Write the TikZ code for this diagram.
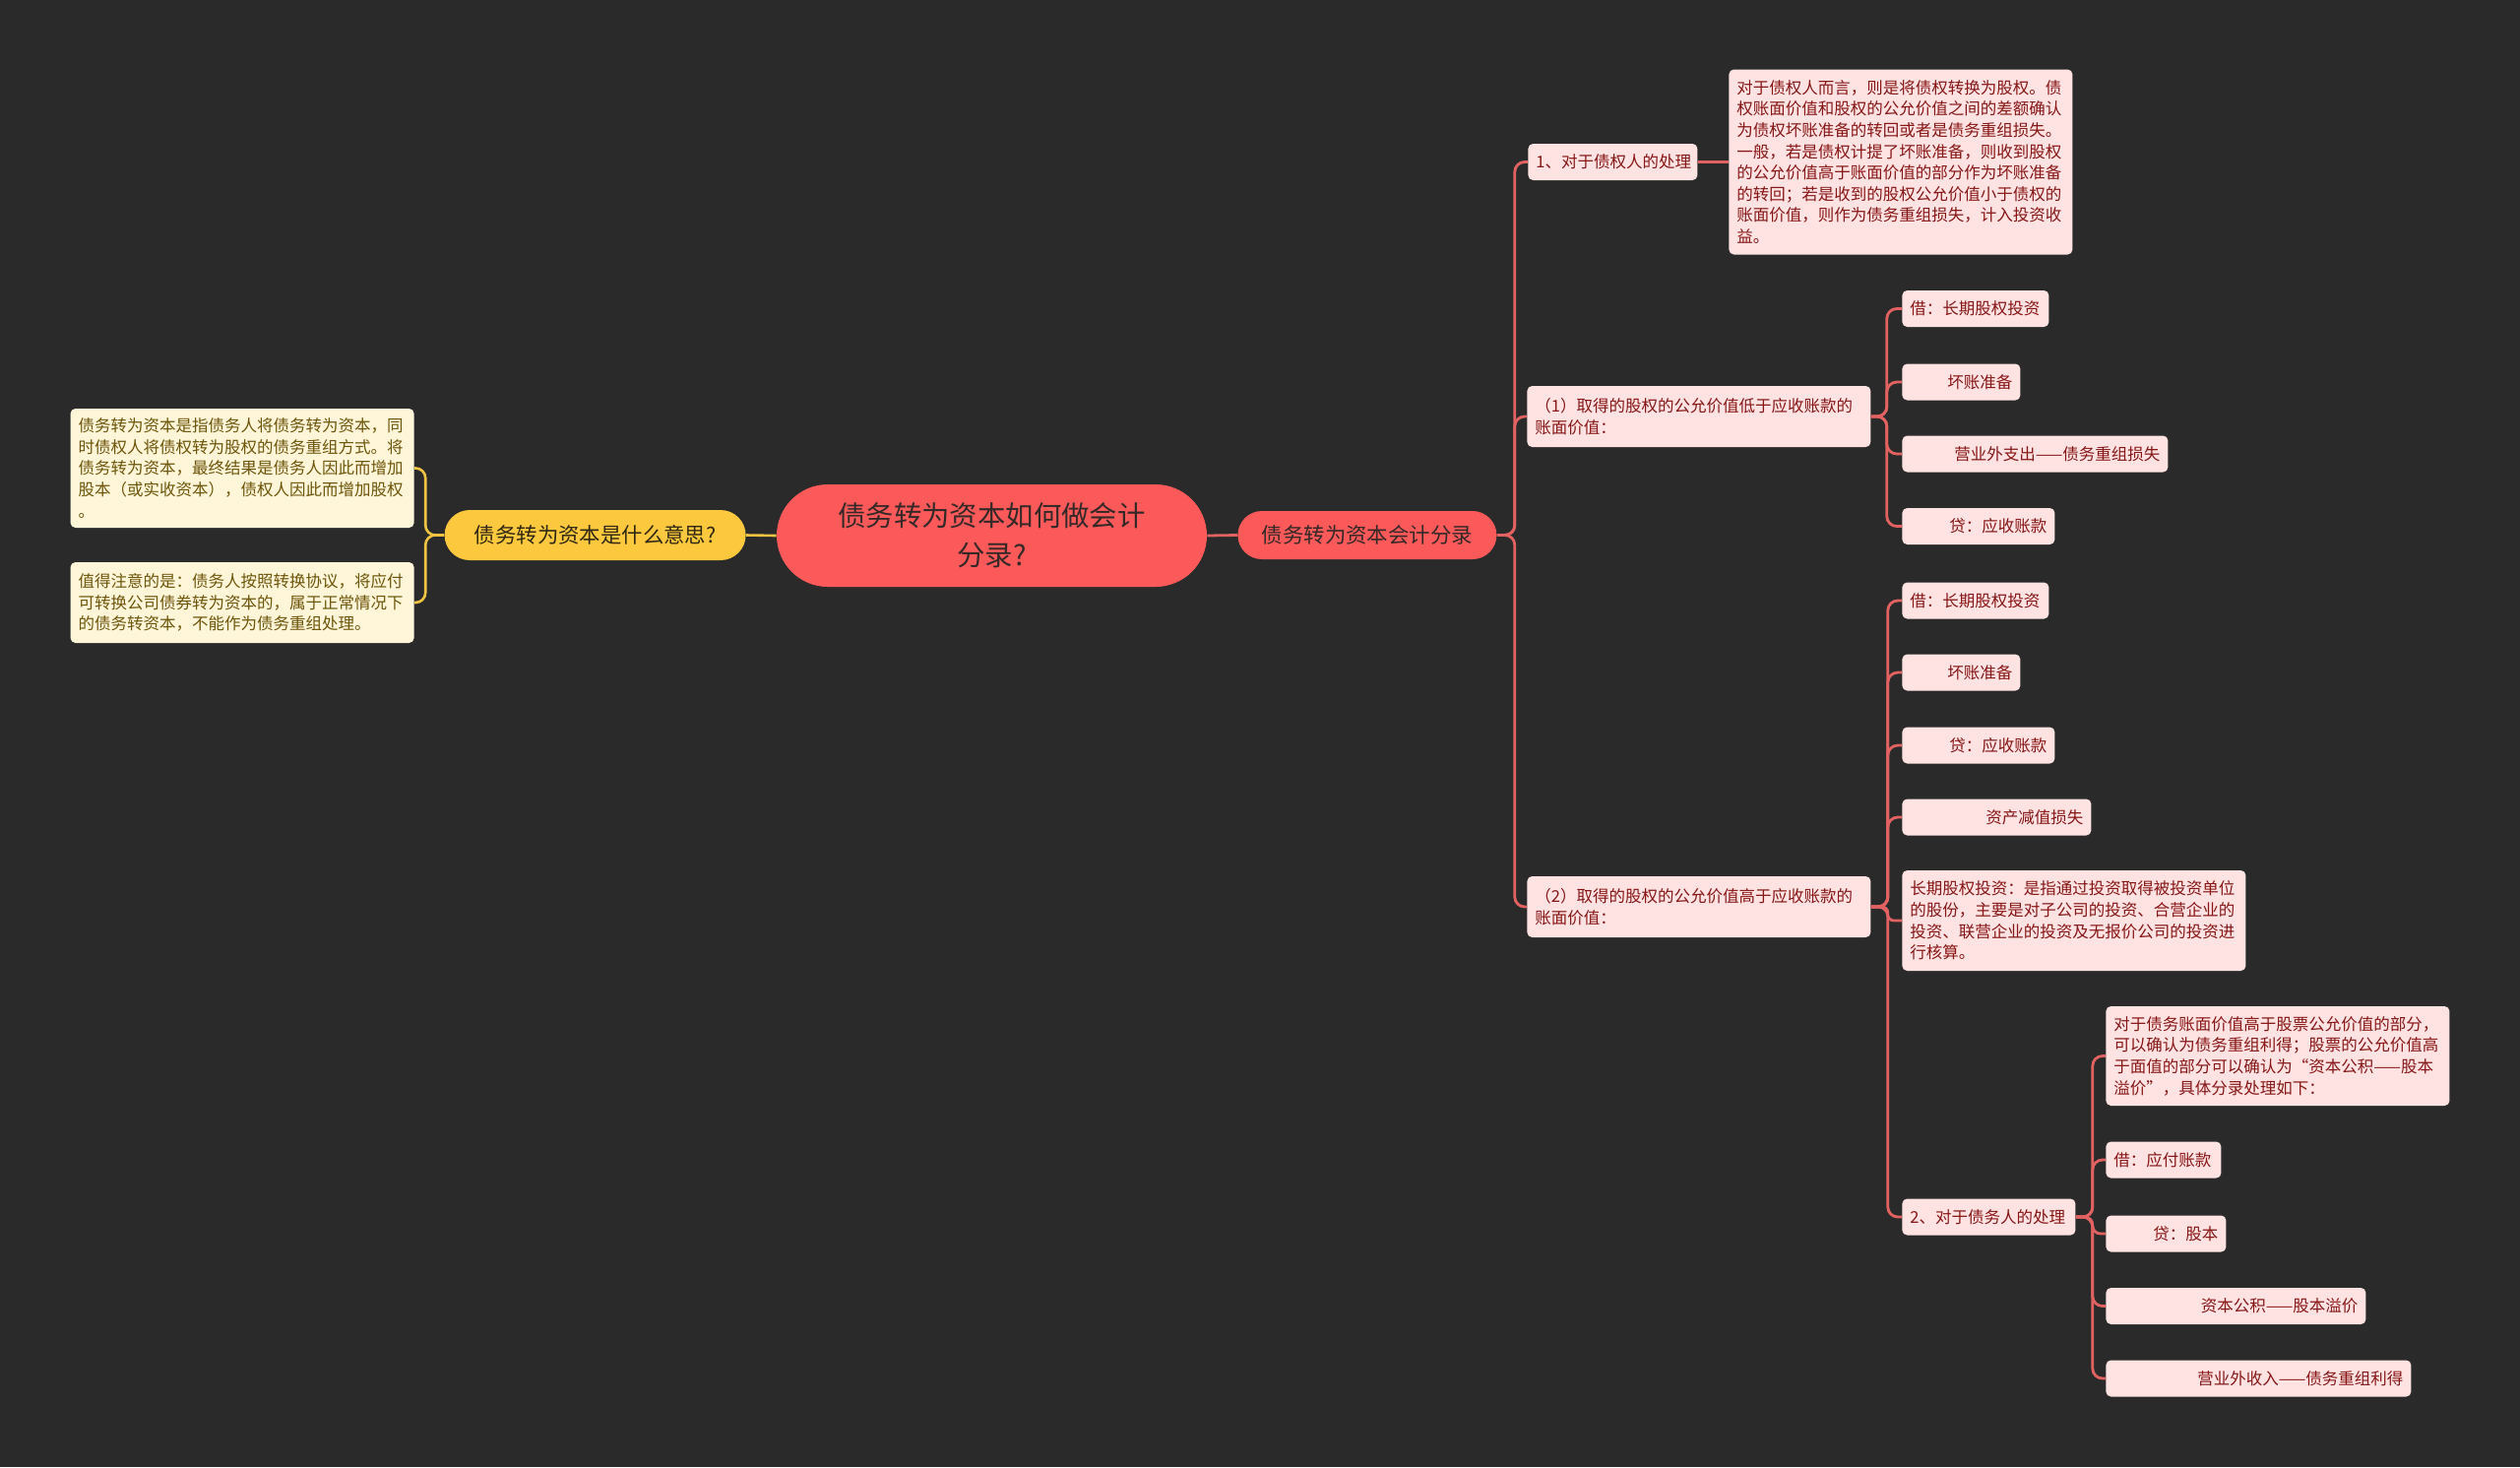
\documentclass[tikz,border=0pt]{standalone}
\usepackage{fontspec}
\setmainfont{Noto Sans CJK SC}
\definecolor{bg}{RGB}{42,42,42}
\definecolor{rootfill}{RGB}{252,90,90}
\definecolor{roottext}{RGB}{55,40,40}
\definecolor{leaffill}{RGB}{255,226,226}
\definecolor{leaftext}{RGB}{135,22,22}
\definecolor{rline}{RGB}{226,98,98}
\definecolor{yfill}{RGB}{252,200,62}
\definecolor{ytext}{RGB}{50,40,20}
\definecolor{yleaffill}{RGB}{255,246,218}
\definecolor{yleaftext}{RGB}{110,85,10}
\definecolor{yline}{RGB}{240,196,66}
\begin{document}
\begin{tikzpicture}[x=0.5pt,y=-0.5pt,
  leafbox/.style={fill=leaffill,text=leaftext,rounded corners=2.5pt,inner xsep=4pt,inner ysep=0pt,anchor=west,font=\fontsize{8.25pt}{10.8pt}\selectfont,align=left,minimum height=18.5pt},
  rleaf/.style={leafbox,align=right},
  yleaf/.style={leafbox,fill=yleaffill,text=yleaftext,anchor=east},
  rootbox/.style={fill=rootfill,text=roottext,rounded corners=26pt,minimum width=218.5pt,minimum height=52pt,inner sep=0pt,align=center,font=\fontsize{14.2pt}{20pt}\selectfont},
  sub/.style={fill=rootfill,text=roottext,rounded corners=12.25pt,minimum width=131.5pt,minimum height=24.5pt,inner sep=0pt,align=center,font=\fontsize{10.7pt}{13pt}\selectfont},
  ysub/.style={sub,fill=yfill,text=ytext,minimum width=153pt,minimum height=25.5pt,rounded corners=12.75pt},
  rconn/.style={draw=rline,line width=1.4pt,rounded corners=5pt},
  yconn/.style={draw=yline,line width=1.3pt,rounded corners=5pt}]
\fill[bg] (0,0) rectangle (2560,1490);
\useasboundingbox (0,0) rectangle (2560,1490);

% root and level 1
\node[rootbox] (root) at (1007.5,544) {债务转为资本如何做会计\\分录?};
\node[sub,anchor=west] (rc) at (1257,543.5) {债务转为资本会计分录};
\node[ysub,anchor=east] (yq) at (758,543.5) {债务转为资本是什么意思?};

% left leaves
\node[yleaf,text width=166.5pt,minimum height=60.5pt] (yl1) at (421,475.5) {债务转为资本是指债务人将债务转为资本，同\\时债权人将债权转为股权的债务重组方式。将\\债务转为资本，最终结果是债务人因此而增加\\股本（或实收资本），债权人因此而增加股权\\。};
\node[yleaf,text width=166.5pt,minimum height=41pt] (yl2) at (421,612) {值得注意的是：债务人按照转换协议，将应付\\可转换公司债券转为资本的，属于正常情况下\\的债务转资本，不能作为债务重组处理。};

% right level 2
\node[leafbox,text width=78pt] (n1) at (1552,164.5) {1、对于债权人的处理};
\node[leafbox,text width=166.5pt,minimum height=94pt] (cred) at (1756,164.5) {对于债权人而言，则是将债权转换为股权。债\\权账面价值和股权的公允价值之间的差额确认\\为债权坏账准备的转回或者是债务重组损失。\\一般，若是债权计提了坏账准备，则收到股权\\的公允价值高于账面价值的部分作为坏账准备\\的转回；若是收到的股权公允价值小于债权的\\账面价值，则作为债务重组损失，计入投资收\\益。};
\node[leafbox,text width=166.5pt,minimum height=31pt] (p1) at (1551,423) {（1）取得的股权的公允价值低于应收账款的\\账面价值：};
\node[leafbox,text width=166.5pt,minimum height=31pt] (p2) at (1551,921) {（2）取得的股权的公允价值高于应收账款的\\账面价值：};

% (1) children
\node[leafbox,text width=66.5pt] (a1) at (1932,313.5) {借：长期股权投资};
\node[rleaf,text width=52pt] (a2) at (1932,388) {坏账准备};
\node[rleaf,text width=127pt] (a3) at (1932,461) {营业外支出——债务重组损失};
\node[rleaf,text width=69.5pt] (a4) at (1932,534.5) {贷：应收账款};

% (2) children
\node[leafbox,text width=66.5pt] (b1) at (1932,610) {借：长期股权投资};
\node[rleaf,text width=52pt] (b2) at (1932,683) {坏账准备};
\node[rleaf,text width=69.5pt] (b3) at (1932,757) {贷：应收账款};
\node[rleaf,text width=88pt] (b4) at (1932,830) {资产减值损失};
\node[leafbox,text width=166.5pt,minimum height=51pt] (b5) at (1932,935) {长期股权投资：是指通过投资取得被投资单位\\的股份，主要是对子公司的投资、合营企业的\\投资、联营企业的投资及无报价公司的投资进\\行核算。};
\node[leafbox,text width=80pt] (d) at (1932,1236) {2、对于债务人的处理};

% debtor children
\node[leafbox,text width=166.5pt,minimum height=50.5pt] (e1) at (2139,1072.5) {对于债务账面价值高于股票公允价值的部分，\\可以确认为债务重组利得；股票的公允价值高\\于面值的部分可以确认为“资本公积——股本\\溢价”，具体分录处理如下：};
\node[leafbox,text width=50.5pt] (e2) at (2139,1178) {借：应付账款};
\node[rleaf,text width=53pt] (e3) at (2139,1253) {贷：股本};
\node[rleaf,text width=124pt] (e4) at (2139,1326.5) {资本公积——股本溢价};
\node[rleaf,text width=147pt] (e5) at (2139,1400) {营业外收入——债务重组利得};

% connectors
\draw[rconn] (root.east) -- (rc.west);
\draw[yconn] (root.west) -- (yq.east);
\foreach \c in {yl1,yl2} \draw[yconn] (yq.west) -- ++(-19,0) |- (\c.east);
\foreach \c in {n1,p1,p2} \draw[rconn] (rc.east) -- ++(18,0) |- (\c.west);
\draw[rconn] (n1.east) -- (n1.east -| cred.west);
\foreach \c in {a1,a2,a3,a4} \draw[rconn] (p1.east) -- ++(16,0) |- (\c.west);
\foreach \c in {b1,b2,b3,b4,d} \draw[rconn] (p2.east) -- ++(17,0) |- (\c.west);
\draw[rconn,rounded corners=3pt] (p2.east) -- ++(17,0) |- (b5.west);
\foreach \c in {e1,e2,e4,e5} \draw[rconn] (d.east) -- ++(17,0) |- (\c.west);
\draw[rconn,rounded corners=4pt] (d.east) -- ++(17,0) |- (e3.west);
\end{tikzpicture}
\end{document}
